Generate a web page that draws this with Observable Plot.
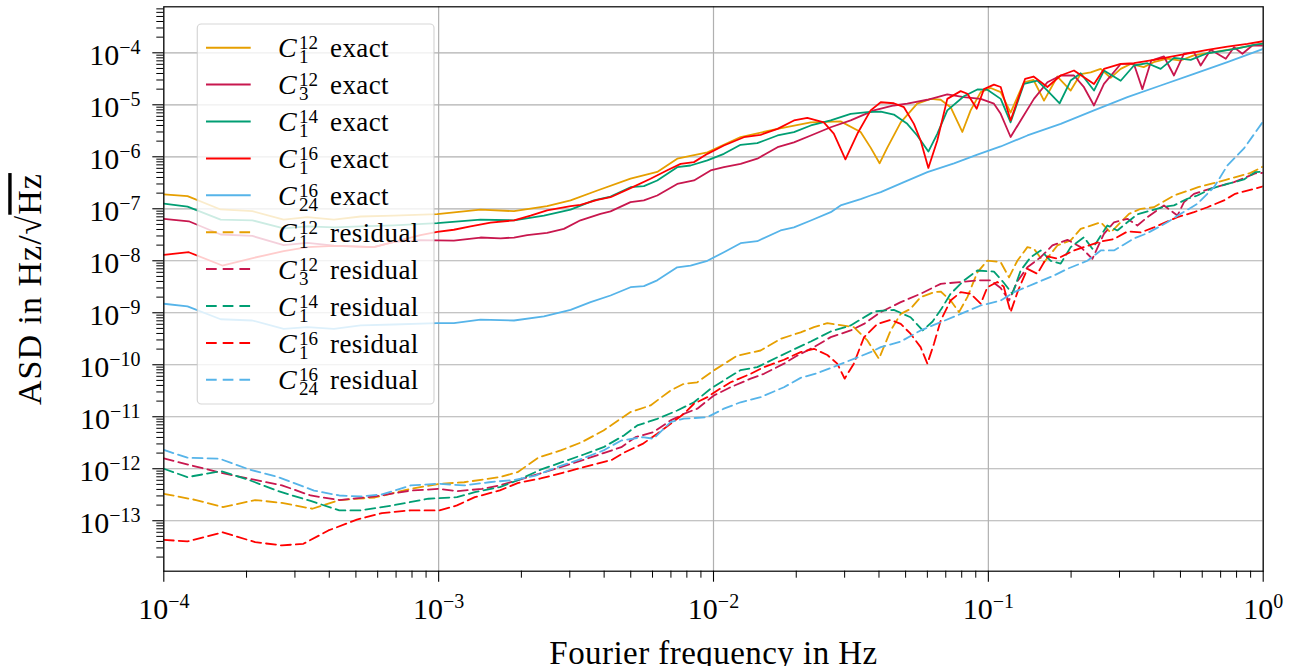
<!DOCTYPE html>
<html><head><meta charset="utf-8">
<script src="https://cdn.jsdelivr.net/npm/d3@7"></script>
<script src="https://cdn.jsdelivr.net/npm/@observablehq/plot@0.6"></script>
<style>
html,body{margin:0;padding:0;background:#fff;}
#chart{position:relative;width:1294px;height:666px;overflow:hidden;}
</style></head><body><div id="chart"></div>
<script>
// ---- tick values ----
const xMajor = [1e-4, 1e-3, 1e-2, 1e-1, 1];
const yMajor = [1e-13, 1e-12, 1e-11, 1e-10, 1e-9, 1e-8, 1e-7, 1e-6, 1e-5, 1e-4];
const xDomain = [1e-4, 1];
const yDomain = [1.07e-14, 7.67e-4];

// ---- series: [frequency in Hz, ASD] ----
const c1_12_exact = [[1e-4,1.9e-7],[1.22e-4,1.75e-7],[1.61e-4,9.7e-8],[2.1e-4,9.0e-8],[2.73e-4,6.2e-8],[3.33e-4,6.9e-8],[4.16e-4,6.2e-8],[5.2e-4,7.1e-8],[6.87e-4,7.4e-8],[9.88e-4,7.9e-8],[1.42e-3,9.6e-8],[1.88e-3,9.0e-8],[2.48e-3,1.12e-7],[3.02e-3,1.45e-7],[3.78e-3,2.25e-7],[4.99e-3,3.8e-7],[6.24e-3,5.1e-7],[7.38e-3,9.2e-7],[9.5e-3,1.22e-6],[1.255e-2,2.4e-6],[1.71e-2,3.45e-6],[2.26e-2,4.6e-6],[2.9e-2,4.8e-6],[3.43e-2,3.0e-6],[3.73e-2,1.5e-6],[4.02e-2,7.5e-7],[4.29e-2,1.5e-6],[4.8e-2,4.6e-6],[5.51e-2,1.05e-5],[6.17e-2,1.3e-5],[6.71e-2,1.25e-5],[7.29e-2,9e-6],[8.04e-2,3.0e-6],[8.62e-2,7.8e-6],[9.38e-2,1.75e-5],[0.102,2.1e-5],[0.1109,1.75e-5],[0.1205,7.1e-6],[0.1347,2.7e-5],[0.146,3.0e-5],[0.1594,1.2e-5],[0.1783,3.5e-5],[0.1993,1.88e-5],[0.2167,3.9e-5],[0.2357,4.2e-5],[0.2563,4.9e-5],[0.2786,3.3e-5],[0.303,4.9e-5],[0.3294,6.1e-5],[0.3674,5.3e-5],[0.3995,6.6e-5],[0.448,7.7e-5],[0.501,7.1e-5],[0.5586,8.9e-5],[0.6605,1.03e-4],[0.781,1.19e-4],[1.0,1.5e-4]];

const c3_12_exact = [[1e-4,6.4e-8],[1.233e-4,5.75e-8],[1.61e-4,3.2e-8],[2.1e-4,3.0e-8],[2.73e-4,2.0e-8],[3.33e-4,2.2e-8],[4.16e-4,1.96e-8],[5.81e-4,1.83e-8],[6.87e-4,2.3e-8],[8.59e-4,2.5e-8],[1.136e-3,2.45e-8],[1.42e-3,2.8e-8],[1.68e-3,2.7e-8],[1.88e-3,2.8e-8],[2.1e-3,3.1e-8],[2.48e-3,3.45e-8],[2.855e-3,4.1e-8],[3.28e-3,6.0e-8],[3.88e-3,8.0e-8],[4.22e-3,8.9e-8],[4.99e-3,1.34e-7],[5.58e-3,1.45e-7],[6.24e-3,1.8e-7],[7.38e-3,3.0e-7],[8.49e-3,3.5e-7],[9.76e-3,5.45e-7],[1.091e-2,6.3e-7],[1.255e-2,7.3e-7],[1.443e-2,9.2e-7],[1.71e-2,1.53e-6],[1.962e-2,1.9e-6],[2.26e-2,2.57e-6],[2.67e-2,3.7e-6],[3.155e-2,5.0e-6],[3.834e-2,7.8e-6],[4.53e-2,9.7e-6],[5.07e-2,1.05e-5],[0.06,1.25e-5],[7.09e-2,1.58e-5],[8.15e-2,1.41e-5],[9.38e-2,1.3e-5],[0.1048,1.05e-5],[0.1109,6.7e-6],[0.1205,2.4e-6],[0.1311,5.0e-6],[0.1465,1.3e-5],[0.164,2.72e-5],[0.1833,3.66e-5],[0.2049,3.66e-5],[0.2228,2.18e-5],[0.2423,9.7e-6],[0.2634,2.53e-5],[0.303,6.1e-5],[0.3386,6.1e-5],[0.3634,2.0e-5],[0.3914,7.1e-5],[0.4355,8.5e-5],[0.4736,3.66e-5],[0.515,9.6e-5],[0.56,1.03e-4],[0.5923,5.7e-5],[0.644,1.14e-4],[0.731,7.7e-5],[0.783,1.28e-4],[0.84,9.6e-5],[0.913,1.38e-4],[1.0,1.38e-4]];

const c1_14_exact = [[1e-4,1.26e-7],[1.22e-4,1.1e-7],[1.61e-4,6.2e-8],[2.1e-4,6.0e-8],[2.73e-4,4.2e-8],[3.33e-4,4.57e-8],[4.16e-4,4.4e-8],[5.2e-4,4.57e-8],[6.87e-4,4.8e-8],[9.88e-4,5.3e-8],[1.42e-3,6.2e-8],[1.88e-3,6.0e-8],[2.415e-3,7.4e-8],[3.02e-3,9.6e-8],[3.67e-3,1.45e-7],[4.22e-3,1.72e-7],[4.99e-3,2.6e-7],[5.58e-3,2.72e-7],[6.24e-3,3.5e-7],[7.38e-3,6.3e-7],[8.25e-3,6.8e-7],[9.5e-3,8.5e-7],[1.091e-2,1.14e-6],[1.255e-2,1.7e-6],[1.443e-2,1.83e-6],[1.71e-2,2.57e-6],[1.962e-2,2.97e-6],[2.26e-2,4.0e-6],[2.67e-2,5.0e-6],[3.155e-2,6.7e-6],[3.63e-2,7.2e-6],[4.06e-2,7.4e-6],[4.53e-2,6.5e-6],[5.07e-2,4.3e-6],[5.51e-2,2.57e-6],[6.05e-2,1.26e-6],[6.52e-2,2.77e-6],[7.09e-2,7.8e-6],[8.15e-2,1.46e-5],[9.12e-2,1.97e-5],[9.92e-2,1.95e-5],[0.1109,1.3e-5],[0.1205,4.6e-6],[0.1347,2.53e-5],[0.1508,2.93e-5],[0.164,1.88e-5],[0.1817,1.07e-5],[0.1993,2.93e-5],[0.2167,4.05e-5],[0.2423,1.88e-5],[0.2634,4.57e-5],[0.303,2.9e-5],[0.3386,5.7e-5],[0.379,6.3e-5],[0.4236,4.9e-5],[0.4736,8.0e-5],[0.5447,7.3e-5],[0.6266,9.8e-5],[0.669,1.03e-4],[0.791,1.19e-4],[0.935,1.44e-4],[1.0,1.5e-4]];

const c1_16_exact = [[1e-4,1.3e-8],[1.233e-4,1.46e-8],[1.632e-4,8.1e-9],[2.126e-4,1.14e-8],[2.73e-4,1.53e-8],[3.33e-4,1.83e-8],[4.16e-4,1.94e-8],[5.81e-4,1.83e-8],[8.59e-4,3.1e-8],[9.88e-4,3.6e-8],[1.136e-3,3.95e-8],[1.306e-3,4.6e-8],[1.545e-3,5.4e-8],[1.88e-3,6.0e-8],[2.16e-3,7.4e-8],[2.48e-3,9.3e-8],[3.02e-3,1.12e-7],[3.28e-3,1.19e-7],[3.78e-3,1.49e-7],[4.22e-3,1.67e-7],[4.99e-3,2.5e-7],[5.9e-3,3.78e-7],[6.79e-3,5.5e-7],[7.59e-3,7.3e-7],[8.49e-3,7.9e-7],[9.5e-3,1.14e-6],[1.091e-2,1.65e-6],[1.29e-2,2.38e-6],[1.484e-2,2.65e-6],[1.71e-2,3.45e-6],[1.962e-2,5.0e-6],[2.194e-2,5.6e-6],[2.52e-2,4.6e-6],[2.74e-2,2.8e-6],[3.02e-2,8.9e-7],[3.34e-2,2.8e-6],[3.73e-2,7.8e-6],[4.06e-2,1.12e-5],[4.53e-2,1.07e-5],[4.93e-2,9.0e-6],[5.36e-2,4.3e-6],[5.67e-2,2.06e-6],[6.05e-2,6.1e-7],[6.52e-2,2.06e-6],[7.09e-2,1.3e-5],[7.93e-2,1.83e-5],[8.39e-2,1.63e-5],[9.07e-2,8.4e-6],[9.64e-2,2.0e-5],[0.1048,2.45e-5],[0.1109,2.2e-5],[0.1205,5.0e-6],[0.1361,3.16e-5],[0.146,3.5e-5],[0.164,2.2e-5],[0.1833,3.66e-5],[0.2049,4.57e-5],[0.2423,2.5e-5],[0.2634,4.9e-5],[0.303,6.1e-5],[0.3386,6.3e-5],[0.4004,7.3e-5],[0.448,8.2e-5],[0.5299,9.6e-5],[0.6266,1.14e-4],[0.7409,1.32e-4],[0.876,1.49e-4],[1.0,1.67e-4]];

const c24_16_exact = [[1e-4,1.49e-9],[1.22e-4,1.33e-9],[1.61e-4,7.5e-10],[2.1e-4,7.1e-10],[2.73e-4,4.9e-10],[3.33e-4,5.3e-10],[4.16e-4,4.9e-10],[5.2e-4,5.7e-10],[6.87e-4,5.95e-10],[9.88e-4,6.3e-10],[1.136e-3,6.3e-10],[1.42e-3,7.4e-10],[1.88e-3,7.1e-10],[2.415e-3,8.5e-10],[3.02e-3,1.14e-9],[3.57e-3,1.6e-9],[4.22e-3,2.15e-9],[4.99e-3,3.1e-9],[5.58e-3,3.25e-9],[6.24e-3,4.2e-9],[7.38e-3,7.5e-9],[8.25e-3,8.1e-9],[9.5e-3,1.0e-8],[1.091e-2,1.46e-8],[1.255e-2,2.18e-8],[1.443e-2,2.38e-8],[1.754e-2,3.83e-8],[1.962e-2,4.4e-8],[2.26e-2,5.95e-8],[2.67e-2,8.6e-8],[2.9e-2,1.16e-7],[3.43e-2,1.54e-7],[3.73e-2,1.8e-7],[4.06e-2,2.09e-7],[4.93e-2,3.25e-7],[0.06,5.06e-7],[7.5e-2,7.5e-7],[9.12e-2,1.1e-6],[0.1109,1.58e-6],[0.1387,2.57e-6],[0.1833,4.3e-6],[0.2423,7.8e-6],[0.3205,1.4e-5],[0.4236,2.35e-5],[0.56,3.95e-5],[0.7409,6.6e-5],[1.0,1.19e-4]];

const c1_12_resid = [[1e-4,3.3e-13],[1.31e-4,2.5e-13],[1.64e-4,1.83e-13],[2.15e-4,2.5e-13],[2.69e-4,2.2e-13],[3.47e-4,1.7e-13],[4.35e-4,2.5e-13],[5.86e-4,2.8e-13],[7.9e-4,4.1e-13],[1.004e-3,5.1e-13],[1.238e-3,5.5e-13],[1.67e-3,6.9e-13],[1.937e-3,8.6e-13],[2.32e-3,1.67e-12],[2.78e-3,2.25e-12],[3.32e-3,3.25e-12],[3.98e-3,5.45e-12],[4.99e-3,1.23e-11],[5.9e-3,1.65e-11],[6.98e-3,3.2e-11],[7.8e-3,4.3e-11],[8.73e-3,4.6e-11],[1.0035e-2,7.8e-11],[1.221e-2,1.5e-10],[1.484e-2,1.88e-10],[1.754e-2,3.16e-10],[2.075e-2,4.2e-10],[2.32e-2,5.3e-10],[2.595e-2,6.3e-10],[2.9e-2,5.8e-10],[3.24e-2,5.3e-10],[3.63e-2,2.93e-10],[4.0e-2,1.3e-10],[4.41e-2,4.57e-10],[4.8e-2,9.5e-10],[5.21e-2,1.19e-9],[5.67e-2,2.0e-9],[6.34e-2,2.49e-9],[6.71e-2,2.56e-9],[7.29e-2,1.72e-9],[7.82e-2,1.03e-9],[8.39e-2,2.0e-9],[9.12e-2,6.0e-9],[9.92e-2,1.01e-8],[0.1109,9.4e-9],[0.1189,4.8e-9],[0.1275,1.0e-8],[0.1387,1.83e-8],[0.1465,1.7e-8],[0.1594,9.3e-9],[0.1783,1.97e-8],[0.1993,2.46e-8],[0.2167,4.1e-8],[0.2563,5.5e-8],[0.2786,3.5e-8],[0.325,8.0e-8],[0.359,1.0e-7],[0.4,1.07e-7],[0.4736,1.8e-7],[0.58,2.6e-7],[0.731,3.6e-7],[0.9,4.9e-7],[1.0,6.5e-7]];

const c3_12_resid = [[1e-4,1.58e-12],[1.31e-4,1.1e-12],[1.64e-4,8.2e-13],[2.15e-4,6.1e-13],[2.69e-4,4.8e-13],[3.42e-4,3.06e-13],[4.35e-4,2.5e-13],[5.86e-4,2.93e-13],[7.9e-4,3.8e-13],[1.004e-3,4.1e-13],[1.166e-3,3.7e-13],[1.438e-3,4.1e-13],[1.67e-3,4.8e-13],[1.937e-3,6.0e-13],[2.32e-3,8.0e-13],[2.78e-3,1.07e-12],[3.32e-3,1.45e-12],[3.98e-3,2.0e-12],[4.62e-3,2.6e-12],[5.2e-3,4.05e-12],[6.05e-3,5.06e-12],[6.98e-3,8.5e-12],[7.8e-3,1.14e-11],[8.73e-3,1.43e-11],[1.0035e-2,2.57e-11],[1.154e-2,3.7e-11],[1.365e-2,5.4e-11],[1.526e-2,6.7e-11],[1.804e-2,1.05e-10],[2.018e-2,1.5e-10],[2.32e-2,2.18e-10],[2.67e-2,3.4e-10],[3.155e-2,4.57e-10],[3.526e-2,6.1e-10],[4.06e-2,1.03e-9],[4.8e-2,1.6e-9],[5.67e-2,2.32e-9],[6.71e-2,3.6e-9],[7.93e-2,3.9e-9],[9.12e-2,4.2e-9],[0.102,4.2e-9],[0.1109,3.0e-9],[0.1189,1.72e-9],[0.1275,4.0e-9],[0.1387,7.5e-9],[0.155,1.17e-8],[0.171,1.97e-8],[0.194,2.53e-8],[0.2167,1.83e-8],[0.239,1.09e-8],[0.2634,3.3e-8],[0.2865,5.5e-8],[0.3205,6.4e-8],[0.3485,4.77e-8],[0.379,6.9e-8],[0.4355,1.16e-7],[0.4873,7.4e-8],[0.515,1.34e-7],[0.56,1.94e-7],[0.669,2.6e-7],[0.783,3.25e-7],[0.935,4.8e-7],[1.0,4.9e-7]];

const c1_14_resid = [[1e-4,1.0e-12],[1.218e-4,6.9e-13],[1.618e-4,9.0e-13],[2.056e-4,6.0e-13],[2.61e-4,3.7e-13],[3.42e-4,2.4e-13],[4.35e-4,1.58e-13],[5.2e-4,1.58e-13],[6.8e-4,1.97e-13],[9.18e-4,2.65e-13],[1.166e-3,2.84e-13],[1.354e-3,3.55e-13],[1.67e-3,4.43e-13],[1.937e-3,6.0e-13],[2.35e-3,9.6e-13],[2.855e-3,1.38e-12],[3.376e-3,1.88e-12],[3.98e-3,2.6e-12],[4.72e-3,4.37e-12],[5.28e-3,6.8e-12],[6.24e-3,9.1e-12],[7.38e-3,1.32e-11],[8.49e-3,1.9e-11],[9.76e-3,3.45e-11],[1.091e-2,5.0e-11],[1.255e-2,7.9e-11],[1.443e-2,9.0e-11],[1.71e-2,1.4e-10],[1.908e-2,1.84e-10],[2.26e-2,2.8e-10],[2.67e-2,4.37e-10],[3.155e-2,5.7e-10],[3.834e-2,1.06e-9],[4.53e-2,1.14e-9],[5.21e-2,8.2e-10],[5.77e-2,4.57e-10],[6.27e-2,6.8e-10],[6.76e-2,1.21e-9],[7.29e-2,2.32e-9],[8.15e-2,4.17e-9],[9.12e-2,6.5e-9],[0.1048,6.2e-9],[0.114,3.74e-9],[0.1223,2.32e-9],[0.1311,6.5e-9],[0.1425,1.17e-8],[0.155,1.58e-8],[0.1686,1.0e-8],[0.1833,8.8e-9],[0.1993,1.83e-8],[0.2228,2.84e-8],[0.239,1.7e-8],[0.271,4.77e-8],[0.2947,3.83e-8],[0.3205,5.5e-8],[0.3485,7.8e-8],[0.4355,1.09e-7],[0.4736,1.16e-7],[0.5299,1.56e-7],[0.5763,1.8e-7],[0.644,2.42e-7],[0.7409,3.0e-7],[0.8513,3.66e-7],[0.935,5.06e-7],[1.0,5.2e-7]];

const c1_16_resid = [[1e-4,4.3e-14],[1.218e-4,4.0e-14],[1.64e-4,6.0e-14],[2.15e-4,3.87e-14],[2.69e-4,3.35e-14],[3.22e-4,3.6e-14],[3.97e-4,6.5e-14],[5.04e-4,1.05e-13],[6.22e-4,1.4e-13],[7.9e-4,1.58e-13],[1.004e-3,1.58e-13],[1.166e-3,1.97e-13],[1.354e-3,2.84e-13],[1.67e-3,3.83e-13],[1.937e-3,5.3e-13],[2.35e-3,6.5e-13],[2.895e-3,8.66e-13],[3.57e-3,1.16e-12],[4.29e-3,1.5e-12],[4.74e-3,2.06e-12],[5.52e-3,3.0e-12],[6.24e-3,4.7e-12],[6.98e-3,7.3e-12],[7.8e-3,1.14e-11],[8.49e-3,1.78e-11],[9.5e-3,2.38e-11],[1.032e-2,3.2e-11],[1.154e-2,4.6e-11],[1.365e-2,6.7e-11],[1.526e-2,9.0e-11],[1.804e-2,1.25e-10],[2.075e-2,1.75e-10],[2.32e-2,2.03e-10],[2.595e-2,1.54e-10],[2.82e-2,1.05e-10],[3.0e-2,5.4e-11],[3.24e-2,1.05e-10],[3.526e-2,3.35e-10],[3.946e-2,6.1e-10],[4.41e-2,7.3e-10],[4.8e-2,6.1e-10],[5.21e-2,3.95e-10],[5.67e-2,2.18e-10],[0.06,1.05e-10],[6.34e-2,2.53e-10],[6.71e-2,7.1e-10],[7.29e-2,1.72e-9],[7.93e-2,2.49e-9],[8.62e-2,2.32e-9],[9.38e-2,1.49e-9],[9.92e-2,3.1e-9],[0.1078,3.9e-9],[0.1137,3.2e-9],[0.1205,1.03e-9],[0.1283,2.68e-9],[0.1387,7.0e-9],[0.1508,5.62e-9],[0.164,1.21e-8],[0.1783,1.1e-8],[0.2049,1.58e-8],[0.2563,2.35e-8],[0.2865,2.62e-8],[0.3205,3.66e-8],[0.359,3.5e-8],[0.4004,4.4e-8],[0.4873,6.9e-8],[0.56,8.6e-8],[0.6266,1.07e-7],[0.72,1.45e-7],[0.791,1.94e-7],[0.926,2.42e-7],[1.0,2.7e-7]];

const c24_16_resid = [[1e-4,2.3e-12],[1.218e-4,1.63e-12],[1.594e-4,1.56e-12],[2.056e-4,9.6e-13],[2.61e-4,6.9e-13],[3.52e-4,3.8e-13],[4.35e-4,3.06e-13],[5.2e-4,2.93e-13],[6.22e-4,3.2e-13],[7.9e-4,4.77e-13],[1.004e-3,5.15e-13],[1.238e-3,4.77e-13],[1.527e-3,5.5e-13],[1.883e-3,6.1e-13],[2.252e-3,7.4e-13],[2.695e-3,1.07e-12],[3.32e-3,1.56e-12],[3.98e-3,2.25e-12],[4.62e-3,3.5e-12],[5.52e-3,4.05e-12],[6.05e-3,3.78e-12],[6.98e-3,7.9e-12],[7.8e-3,9.2e-12],[9.5e-3,9.8e-12],[1.091e-2,1.43e-11],[1.255e-2,1.9e-11],[1.484e-2,2.38e-11],[1.804e-2,3.7e-11],[2.075e-2,5.6e-11],[2.386e-2,6.9e-11],[2.82e-2,9.7e-11],[3.24e-2,1.3e-10],[3.73e-2,1.75e-10],[4.06e-2,2.18e-10],[4.8e-2,2.8e-10],[5.67e-2,4.57e-10],[6.71e-2,6.6e-10],[7.93e-2,9.5e-10],[9.38e-2,1.38e-9],[0.1109,1.72e-9],[0.124,2.49e-9],[0.1465,3.6e-9],[0.1733,5.2e-9],[0.194,7.0e-9],[0.2293,1.0e-8],[0.2563,1.58e-8],[0.2865,1.58e-8],[0.3386,2.68e-8],[0.379,3.4e-8],[0.448,5.5e-8],[0.501,8.0e-8],[0.5763,1.25e-7],[0.662,2.6e-7],[0.7409,6.8e-7],[0.8513,1.45e-6],[1.0,4.8e-6]];

// ---- legend entries ----
const seriesList = [
  {data: c1_12_exact,  color: "#E69F00", dashed: false, sub: "1",  sup: "12", word: "exact"},
  {data: c3_12_exact,  color: "#C8174E", dashed: false, sub: "3",  sup: "12", word: "exact"},
  {data: c1_14_exact,  color: "#009E73", dashed: false, sub: "1",  sup: "14", word: "exact"},
  {data: c1_16_exact,  color: "#FF0000", dashed: false, sub: "1",  sup: "16", word: "exact"},
  {data: c24_16_exact, color: "#56B4E9", dashed: false, sub: "24", sup: "16", word: "exact"},
  {data: c1_12_resid,  color: "#E69F00", dashed: true,  sub: "1",  sup: "12", word: "residual"},
  {data: c3_12_resid,  color: "#C8174E", dashed: true,  sub: "3",  sup: "12", word: "residual"},
  {data: c1_14_resid,  color: "#009E73", dashed: true,  sub: "1",  sup: "14", word: "residual"},
  {data: c1_16_resid,  color: "#FF0000", dashed: true,  sub: "1",  sup: "16", word: "residual"},
  {data: c24_16_resid, color: "#56B4E9", dashed: true,  sub: "24", sup: "16", word: "residual"}
];

// minor tick positions
const xMinor = [];
for (let e = -4; e < 0; e++) for (let k = 2; k <= 9; k++) xMinor.push(k * Math.pow(10, e));
const yMinor = [];
for (let e = -15; e <= -4; e++) for (let k = 2; k <= 9; k++) {
  const v = k * Math.pow(10, e);
  if (v >= yDomain[0] && v <= yDomain[1]) yMinor.push(v);
}

const DASH = "10,5";
const expFmt = d => "10^" + Math.round(Math.log10(d));
const FONT = "'Liberation Serif', 'Times New Roman', serif";

const chart = Plot.plot({
  width: 1294,
  height: 666,
  marginLeft: 163.3,
  marginRight: 31.3,
  marginTop: 6.3,
  marginBottom: 95.3,
  style: {fontFamily: FONT, background: "white", color: "black"},
  x: {type: "log", domain: xDomain},
  y: {type: "log", domain: yDomain},
  marks: [
    Plot.gridX(xMajor, {stroke: "#b0b0b0", strokeOpacity: 1, strokeWidth: 1.2}),
    Plot.gridY(yMajor, {stroke: "#b0b0b0", strokeOpacity: 1, strokeWidth: 1.2}),
    ...seriesList.map(s => Plot.line(s.data, {
      x: d => d[0], y: d => d[1], stroke: s.color, strokeWidth: 1.8,
      strokeDasharray: s.dashed ? DASH : null, clip: true
    })),
    Plot.frame({stroke: "black", strokeWidth: 1.2}),
    Plot.axisX(xMajor, {tickSize: 11, tickPadding: 8, tickFormat: expFmt, fontSize: 30, strokeWidth: 1.1,
      label: "Fourier frequency in Hz", labelAnchor: "center", labelOffset: 92.3, labelArrow: false}),
    Plot.axisX(xMinor, {tickSize: 7, tickFormat: () => "", label: null, strokeWidth: 1}),
    Plot.axisY(yMajor, {tickSize: 11, tickPadding: 12, tickFormat: expFmt, fontSize: 30, strokeWidth: 1.1,
      label: "ASD in Hz/√Hz", labelAnchor: "center", labelOffset: 146.7, labelArrow: false}),
    Plot.axisY(yMinor, {tickSize: 7, tickFormat: () => "", label: null, strokeWidth: 1})
  ]
});
document.getElementById("chart").appendChild(chart);

const svg = d3.select(chart);

// tick labels as 10 with superscript exponent, positioned in page pixels
function rebuild(sel, axis) {
  sel.each(function () {
    const m = /^10\^(-?\d+)$/.exec(this.textContent.trim());
    if (!m) return;
    const e = +m[1];
    this.textContent = "";
    this.removeAttribute("dy");
    this.removeAttribute("dx");
    this.removeAttribute("x");
    this.removeAttribute("y");
    const ctm = this.getCTM();
    const ox = ctm ? ctm.e : 0, oy = ctm ? ctm.f : 0;
    if (axis === "x") {
      this.setAttribute("y", (619.5 - oy).toFixed(1));
    } else {
      this.setAttribute("text-anchor", "end");
      this.setAttribute("x", (140.5 - ox).toFixed(1));
      this.setAttribute("y", (12.6).toFixed(1));
    }
    const t = d3.select(this);
    t.append("tspan").text("10");
    t.append("tspan").attr("font-size", 20).attr("dy", -11)
      .text((e < 0 ? "\u2212" : "") + Math.abs(e));
  });
}
rebuild(svg.selectAll('g[aria-label="x-axis tick label"] text'), "x");
rebuild(svg.selectAll('g[aria-label="y-axis tick label"] text'), "y");

// axis titles
svg.selectAll('g[aria-label="x-axis label"] text').attr("font-size", 33).style("letter-spacing", "0.45px");
svg.selectAll('g[aria-label="y-axis label"] text').each(function () {
  const t = d3.select(this);
  t.attr("font-size", 34).style("letter-spacing", "1px");
  this.textContent = "";
  t.append("tspan").text("ASD in Hz/\u221A");
  t.append("tspan").style("text-decoration", "overline").text("Hz");
});

// legend
const lg = svg.append("g").attr("font-family", FONT).attr("text-anchor", "start");
lg.append("rect").attr("x", 197.3).attr("y", 24).attr("width", 236.7).attr("height", 380)
  .attr("rx", 4).attr("fill", "white").attr("fill-opacity", 0.8)
  .attr("stroke", "#cccccc").attr("stroke-opacity", 0.8).attr("stroke-width", 1.2);
seriesList.forEach((s, i) => {
  const y = 47.7 + i * 36.9;
  lg.append("line").attr("x1", 206).attr("x2", 250.7).attr("y1", y).attr("y2", y)
    .attr("stroke", s.color).attr("stroke-width", 2)
    .attr("stroke-dasharray", s.dashed ? "10.7,6" : null);
  lg.append("text").attr("x", 278).attr("y", y + 9.6).attr("font-size", 28)
    .attr("font-style", "italic").text("C");
  lg.append("text").attr("x", 299).attr("y", y + 1.6).attr("font-size", 19).text(s.sup);
  lg.append("text").attr("x", 299).attr("y", y + 15.6).attr("font-size", 19).text(s.sub);
  lg.append("text").attr("x", 330).attr("y", y + 9.6).attr("font-size", 27).style("letter-spacing", "0.4px").text(s.word);
});
</script></body></html>
